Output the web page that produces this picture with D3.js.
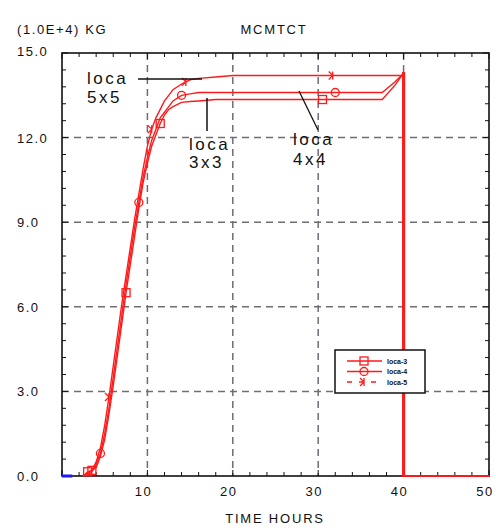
<!DOCTYPE html>
<html><head><meta charset="utf-8">
<script src="https://d3js.org/d3.v7.min.js"></script>
<style>
body{margin:0;background:#fff;}
text{font-family:"Liberation Sans",Arial,sans-serif;fill:#111;}
</style></head>
<body><svg id="c" width="496" height="528"></svg>
<script>
// ---- data ----
const time  = [2.5, 3, 3.5, 4, 4.5, 5, 5.5, 6, 6.5, 7, 7.5, 8, 8.5, 9, 9.5, 10, 10.5, 11, 11.5, 12, 12.5, 13, 14, 15, 16, 18, 20, 25, 30, 35, 37.5, 39, 39.9, 39.9, 40, 40, 40.1, 40.1, 45, 50];
const loca3 = [0, 0.15, 0.2, 0.3, 0.7, 1.3, 2.2, 3.2, 4.3, 5.4, 6.5, 7.5, 8.5, 9.5, 10.4, 11.1, 11.7, 12.1, 12.5, 12.8, 13.0, 13.1, 13.25, 13.28, 13.3, 13.35, 13.35, 13.35, 13.35, 13.35, 13.35, 13.86, 14.25, 0, 0, 0, 0, 0, 0, 0];
const loca4 = [0, 0.05, 0.15, 0.4, 0.8, 1.5, 2.4, 3.5, 4.6, 5.7, 6.8, 7.8, 8.8, 9.7, 10.6, 11.3, 11.9, 12.3, 12.7, 12.9, 13.1, 13.3, 13.5, 13.55, 13.6, 13.6, 13.6, 13.6, 13.6, 13.6, 13.6, 13.98, 14.25, 14.28, 14.28, 0, 0, 0, 0, 0];
const loca5 = [0, 0.1, 0.2, 0.5, 1.0, 1.8, 2.8, 3.9, 5.0, 6.1, 7.1, 8.1, 9.1, 10.0, 10.9, 11.7, 12.3, 12.7, 13.0, 13.3, 13.5, 13.7, 13.9, 14.05, 14.1, 14.15, 14.2, 14.2, 14.2, 14.2, 14.2, 14.2, 14.2, 14.3, 14.3, 14.3, 14.3, 0, 0, 0];
const baseTime = [0, 1.2];
const baseVal  = [0, 0];
const marks3 = [3, 3.5, 7.5, 11.5, 30.5];
const marks4 = [4.5, 9, 14, 32];
const marks5 = [5.5, 10.5, 14.5, 31.7];
const seriesNames = ["loca-3", "loca-4", "loca-5"];
const xTicks = [10, 20, 30, 40, 50];
const yTicks = [0, 3, 6, 9, 12, 15];
const yTickLabels = ["0.0", "3.0", "6.0", "9.0", "12.0", "15.0"];
const title = "MCMTCT";
const yUnit = "(1.0E+4) KG";
const xTitle = "TIME HOURS";
const notes = [
  {l1:"loca", l2:"5x5"},
  {l1:"loca", l2:"3x3"},
  {l1:"loca", l2:"4x4"}
];

// ---- layout ----
const svg = d3.select("#c");
const L=62, R=489, T=53, B=476;
const x = d3.scaleLinear().domain([0,50]).range([L,R]);
const y = d3.scaleLinear().domain([0,15]).range([B,T]);
const red = "#ff1a1a";

// grid
const gridColor = "#75687e";
svg.append("g").selectAll("line").data([10,20,30,40]).join("line")
  .attr("x1",d=>x(d)).attr("x2",d=>x(d)).attr("y1",T).attr("y2",B)
  .attr("stroke",gridColor).attr("stroke-width",1.5).attr("stroke-dasharray","7,5");
svg.append("g").selectAll("line").data([3,6,9,12]).join("line")
  .attr("x1",L).attr("x2",R).attr("y1",d=>y(d)).attr("y2",d=>y(d))
  .attr("stroke","#6f6f6f").attr("stroke-width",1.5).attr("stroke-dasharray","7,5");

// ticks inside on all sides
const xMinor = d3.range(0,50.01,2);
const yMinor = d3.range(0,15.01,0.6);
const tk = svg.append("g").attr("stroke","#111").attr("stroke-width",1);
xMinor.forEach(v=>{
  const len = (v%10===0)?6:4;
  tk.append("line").attr("x1",x(v)).attr("x2",x(v)).attr("y1",B).attr("y2",B-len);
  tk.append("line").attr("x1",x(v)).attr("x2",x(v)).attr("y1",T).attr("y2",T+len);
});
yMinor.forEach(v=>{
  const len = (Math.abs(v/3-Math.round(v/3))<1e-6)?6:4;
  tk.append("line").attr("x1",L).attr("x2",L+len).attr("y1",y(v)).attr("y2",y(v));
  tk.append("line").attr("x1",R).attr("x2",R-len).attr("y1",y(v)).attr("y2",y(v));
});

// frame
svg.append("rect").attr("x",L).attr("y",T).attr("width",R-L).attr("height",B-T)
  .attr("fill","none").attr("stroke","#111").attr("stroke-width",1.6);

// series
const line = d3.line().x(d=>x(d[0])).y(d=>y(d[1]));
const sets = [loca3, loca4, loca5];
sets.forEach(s=>{
  svg.append("path").datum(time.map((t,i)=>[t,s[i]]))
    .attr("d",line).attr("fill","none").attr("stroke",red).attr("stroke-width",1.4);
});
svg.append("path").datum(baseTime.map((t,i)=>[t,baseVal[i]]))
  .attr("d",line).attr("fill","none").attr("stroke","#1a1aff").attr("stroke-width",3);

function interp(s,t){
  for(let i=0;i<time.length-1;i++){
    if(t>=time[i]&&t<=time[i+1]&&time[i+1]>time[i]){
      const f=(t-time[i])/(time[i+1]-time[i]);
      return s[i]+f*(s[i+1]-s[i]);
    }
  }
  return 0;
}
function marker(g,kind,cx,cy){
  if(kind===0) g.append("rect").attr("x",cx-4).attr("y",cy-4).attr("width",8).attr("height",8)
    .attr("fill","none").attr("stroke",red).attr("stroke-width",1.3);
  else if(kind===1) g.append("circle").attr("cx",cx).attr("cy",cy).attr("r",4)
    .attr("fill","none").attr("stroke",red).attr("stroke-width",1.3);
  else g.append("path").attr("d",`M${cx-4},${cy-4}L${cx},${cy}L${cx-4},${cy+4}M${cx},${cy-4}L${cx},${cy+4}`)
    .attr("fill","none").attr("stroke",red).attr("stroke-width",1.3);
}
const mg = svg.append("g");
[marks3,marks4,marks5].forEach((m,k)=>{
  m.forEach(t=>marker(mg,k,x(t),y(interp(sets[k],t))));
});

// annotations
const ann = svg.append("g");
ann.append("line").attr("x1",138).attr("y1",79).attr("x2",202).attr("y2",79).attr("stroke","#111").attr("stroke-width",1.5);
ann.append("line").attr("x1",207).attr("y1",98).attr("x2",207).attr("y2",131).attr("stroke","#111").attr("stroke-width",1.5);
ann.append("line").attr("x1",299).attr("y1",91).attr("x2",318).attr("y2",130).attr("stroke","#111").attr("stroke-width",1.3);
const notePos = [[87,84,103],[189,150,168],[293,145,165]];
notes.forEach((n,i)=>{
  const p=notePos[i];
  ann.append("text").attr("x",p[0]).attr("y",p[1]).attr("font-size",17).attr("letter-spacing",2.5).text(n.l1);
  ann.append("text").attr("x",p[0]).attr("y",p[2]).attr("font-size",17).attr("letter-spacing",2.5).text(n.l2);
});

// legend
const lg = svg.append("g");
lg.append("rect").attr("x",335).attr("y",350).attr("width",90).attr("height",43)
  .attr("fill","#fff").attr("stroke","#111").attr("stroke-width",1.5);
seriesNames.forEach((nm,i)=>{
  const ly = 361 + i*10.5;
  lg.append("line").attr("x1",347).attr("x2",382).attr("y1",ly).attr("y2",ly)
    .attr("stroke",red).attr("stroke-width",1.4).attr("stroke-dasharray", i===2?"5,7":null);
  marker(lg,i,364,ly);
  lg.append("text").attr("x",387).attr("y",ly+2.5).attr("font-size",7).attr("font-weight","bold").text(nm);
});

// texts
svg.append("text").attr("x",17).attr("y",34).attr("font-size",13).attr("letter-spacing",1.6).text(yUnit);
svg.append("text").attr("x",274).attr("y",34).attr("font-size",13).attr("letter-spacing",1.8).attr("text-anchor","middle").text(title);
svg.append("g").selectAll("text").data(yTicks).join("text")
  .attr("x",17).attr("y",d=>y(d)+(d===15?3:5)).attr("font-size",13).attr("letter-spacing",1.5)
  .text((d,i)=>yTickLabels[i]);
svg.append("g").selectAll("text").data(xTicks).join("text")
  .attr("x",d=>x(d)-4).attr("y",496).attr("font-size",13).attr("letter-spacing",1.5).attr("text-anchor","middle")
  .text(d=>d);
svg.append("text").attr("x",275).attr("y",523).attr("font-size",13).attr("letter-spacing",1.8).attr("text-anchor","middle").text(xTitle);
</script></body></html>
